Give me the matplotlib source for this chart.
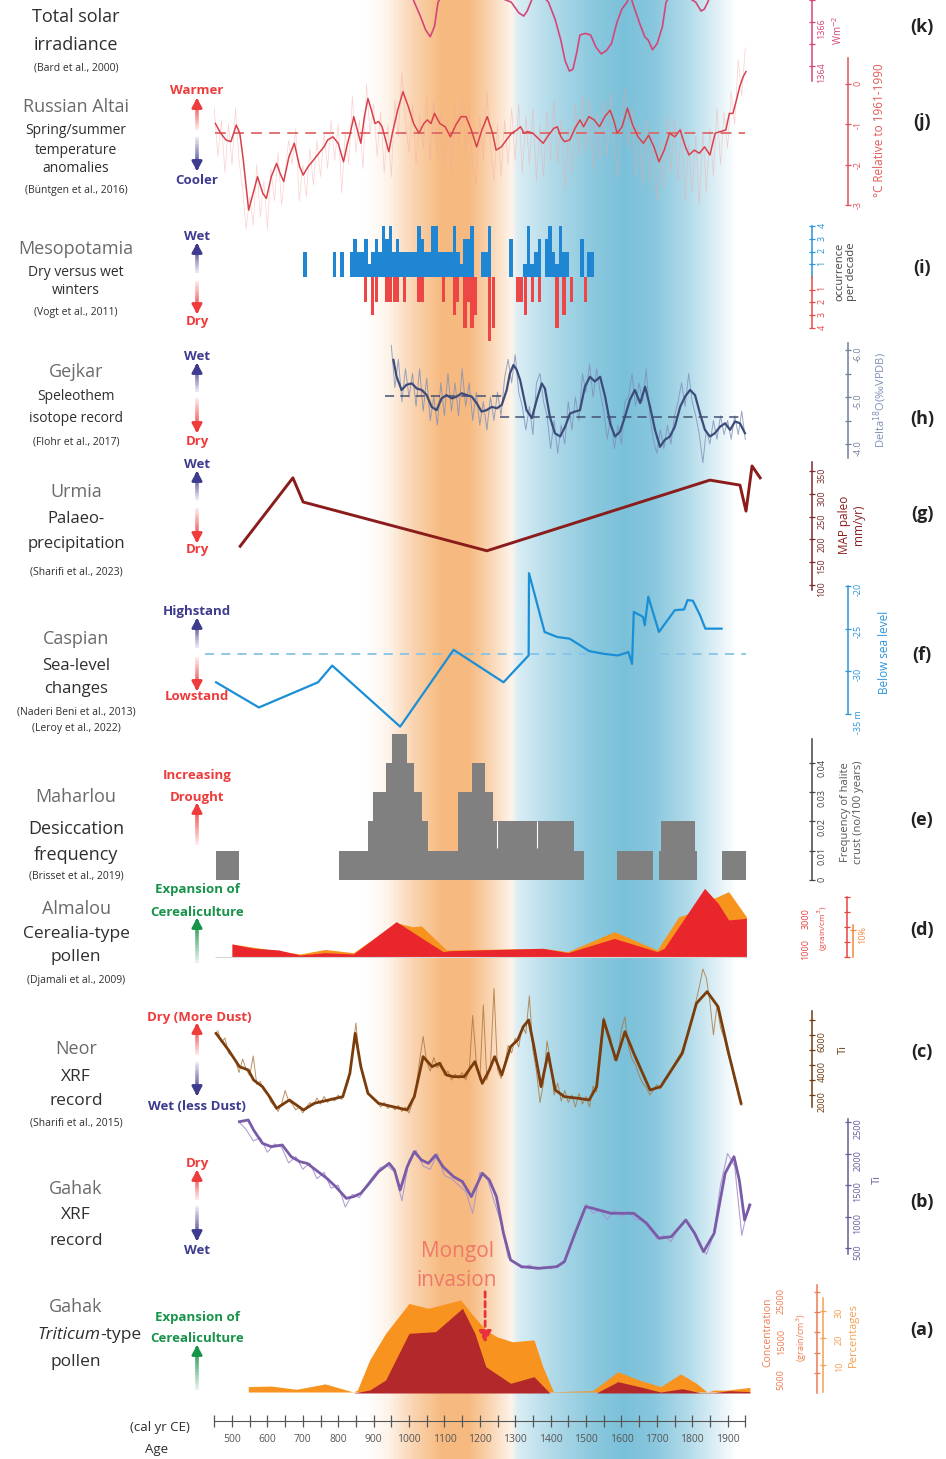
import numpy as np
import matplotlib
matplotlib.use('Agg')
import matplotlib.pyplot as plt
from matplotlib.collections import LineCollection
from matplotlib.colors import to_rgb

plt.rcParams['font.family'] = ['Open Sans', 'DejaVu Sans']

# ---------------- data ----------------
# (k) total solar irradiance, W m-2
k_years = [850, 990, 1015, 1032, 1047, 1060, 1072, 1082, 1120, 1289, 1310, 1324, 1334, 1344, 1360,
           1394, 1413, 1429, 1441, 1453, 1463, 1473, 1483, 1498, 1513, 1528, 1543, 1558, 1572, 1587,
           1601, 1616, 1625, 1631, 1651, 1666, 1676, 1688, 1701, 1716, 1726, 1750, 1810, 1825, 1834,
           1844, 1870]
k_tsi = [1368, 1368, 1366.9, 1366.27, 1365.64, 1365.33, 1365.8, 1366.9, 1368, 1366.9, 1366.42,
         1366.27, 1366.5, 1366.9, 1367.5, 1366.9, 1366.11, 1365.17, 1364.24, 1363.77, 1363.85,
         1364.55, 1365.41, 1365.48, 1365.41, 1364.86, 1364.55, 1364.71, 1365.02, 1365.96, 1366.58,
         1366.9, 1367.3, 1366.9, 1365.96, 1365.33, 1365.17, 1364.74, 1365.02, 1365.8, 1366.9,
         1367.5, 1366.9, 1366.5, 1366.58, 1366.9, 1368]

# (j) Russian Altai temperature anomaly (deg C rel. 1961-1990)
j_years = [453, 468, 483, 497, 512, 522, 532, 547, 557, 572, 587, 597, 611, 626, 636, 646, 661, 676,
           691, 701, 715, 730, 745, 760, 770, 785, 800, 815, 824, 834, 844, 854, 864, 874, 884, 894,
           904, 914, 924, 934, 943, 953, 968, 983, 998, 1013, 1028, 1042, 1052, 1062, 1072, 1087,
           1102, 1117, 1132, 1147, 1161, 1176, 1191, 1206, 1221, 1236, 1246, 1261, 1275, 1290, 1305,
           1315, 1325, 1335, 1350, 1365, 1379, 1394, 1409, 1419, 1429, 1439, 1454, 1469, 1483, 1493,
           1508, 1523, 1538, 1553, 1568, 1578, 1588, 1602, 1617, 1632, 1647, 1662, 1677, 1692, 1706,
           1721, 1736, 1751, 1766, 1781, 1791, 1806, 1820, 1835, 1850, 1865, 1880, 1895, 1905, 1915,
           1925, 1934, 1944, 1952]
j_smooth = [-0.98, -1.22, -1.39, -1.43, -1.02, -1.22, -1.89, -3.13, -2.80, -2.30, -2.71, -2.84,
            -2.30, -1.97, -2.22, -2.42, -1.80, -1.47, -2.05, -2.26, -2.05, -1.89, -1.72, -1.56,
            -1.39, -1.31, -1.47, -1.93, -1.56, -1.22, -0.81, -1.14, -1.47, -0.81, -0.36, -0.65,
            -0.98, -0.93, -1.06, -1.39, -1.68, -1.22, -0.65, -0.19, -0.56, -0.98, -1.22, -0.98,
            -0.89, -0.98, -0.73, -0.98, -1.06, -1.31, -1.02, -0.81, -0.81, -1.14, -1.56, -1.14,
            -0.81, -1.22, -1.64, -1.56, -1.39, -1.22, -1.14, -1.06, -1.22, -1.18, -1.22, -1.35,
            -1.47, -1.27, -1.10, -1.06, -1.31, -1.43, -1.39, -1.10, -0.89, -1.06, -0.81, -0.89,
            -1.06, -0.81, -0.65, -0.89, -1.22, -1.06, -0.60, -1.02, -1.31, -1.47, -1.27, -1.56,
            -1.93, -1.64, -1.22, -1.31, -1.14, -1.56, -1.76, -1.64, -1.72, -1.56, -1.76, -1.22,
            -1.18, -1.14, -0.73, -0.73, -0.40, -0.07, 0.18, 0.31]
j_raw = [-0.6, -1.8, -0.9, -2.2, -1.0, -2.0, -0.6, -1.9, -2.6, -3.6, -2.8, -3.5, -2.0, -3.3, -2.4,
         -3.6, -2.1, -2.9, -1.7, -3.0, -2.2, -1.4, -2.0, -1.1, -2.9, -2.0, -2.8, -1.6, -2.5, -1.4,
         -2.3, -1.2, -2.1, -0.9, -1.9, -1.0, -2.7, -1.2, -2.0, -0.3, -1.7, -0.9, -2.1, 0.0, -1.2,
         -0.5, -1.8, -0.7, -2.2, -1.0, -2.3, -0.4, -1.3, 0.3, -0.9, -1.7, -0.5, -2.0, -0.8, -1.6,
         -0.3, -1.9, -0.4, -1.8, -0.6, -2.1, -0.9, -2.2, -0.5, -1.5, -0.3, -1.7, -0.6, -2.0, -2.5,
         -0.8, -1.9, -0.2, -1.5, -2.4, -1.0, -2.3, -0.9, -2.0, -0.6, -1.9, -0.5, -2.2, -0.8, -2.0,
         -0.6, -2.4, -1.0, -2.3, -0.7, -1.9, -0.4, -2.0, -0.9, -2.6, -1.1, -2.2, -0.5, -1.8, -0.3,
         -1.7, -0.4, -2.1, -0.7, -1.9, -0.4, -1.8, -0.2, -1.6, -2.3, -0.8, -0.1, -1.6, -0.6, -2.3,
         -1.0, -2.5, -0.9, -2.4, -1.3, -2.9, -1.4, -2.6, -0.8, -2.2, -0.9, -2.4, -1.1, -2.9, -1.5,
         -2.7, -1.3, -3.0, -1.2, -2.7, -1.1, -2.3, -0.6, -2.0, -0.7, -1.6, -0.2, -1.0, 0.6, -0.3, 0.9]
j_mean = -1.22

# (i) Mesopotamia wet / dry winters, occurrences per decade
i_wet_years = [706, 789, 810, 838, 848, 858, 868, 878, 888, 898, 908, 918, 928, 938, 948, 958, 968,
               978, 988, 998, 1008, 1018, 1028, 1038, 1048, 1058, 1068, 1078, 1088, 1098, 1108, 1118,
               1128, 1138, 1148, 1158, 1168, 1178, 1208, 1218, 1228, 1288, 1328, 1338, 1348, 1358,
               1368, 1388, 1398, 1408, 1418, 1428, 1438, 1448, 1488, 1508, 1518]
i_wet = [2, 2, 2, 2, 3, 2, 2, 3, 1, 2, 3, 2, 4, 3, 4, 2, 3, 2, 2, 2, 2, 2, 4, 3, 2, 2, 4, 4, 2, 2, 2,
         2, 4, 2, 1, 3, 3, 4, 2, 2, 4, 3, 1, 4, 1, 2, 3, 3, 4, 2, 1, 4, 2, 2, 3, 2, 2]
i_dry_years = [878, 898, 908, 938, 948, 958, 968, 988, 1028, 1038, 1098, 1128, 1138, 1158, 1168,
               1178, 1188, 1228, 1238, 1308, 1318, 1328, 1348, 1368, 1418, 1438, 1458, 1498]
i_dry = [2, 3, 2, 2, 2, 2, 2, 2, 2, 2, 2, 3, 2, 4, 2, 4, 3, 5, 4, 2, 2, 3, 2, 2, 4, 3, 2, 2]

# (h) Gejkar speleothem delta18O (permil VPDB)
h_years = [956, 965, 979, 993, 1008, 1022, 1036, 1050, 1064, 1078, 1092, 1106, 1121, 1135, 1149,
           1163, 1177, 1191, 1205, 1219, 1234, 1248, 1262, 1276, 1285, 1295, 1304, 1314, 1323, 1332,
           1347, 1361, 1375, 1384, 1398, 1412, 1427, 1441, 1455, 1469, 1483, 1497, 1511, 1525, 1540,
           1554, 1568, 1582, 1596, 1610, 1624, 1638, 1653, 1667, 1681, 1695, 1709, 1723, 1737, 1751,
           1766, 1780, 1794, 1808, 1822, 1836, 1850, 1864, 1879, 1893, 1907, 1921, 1935, 1949]
h_smooth = [-5.79, -5.43, -5.15, -5.26, -5.29, -5.18, -5.15, -5.04, -4.79, -4.72, -4.97, -5.04,
            -4.97, -5.01, -5.08, -5.04, -5.01, -4.87, -4.69, -4.72, -4.79, -4.76, -4.83, -5.15,
            -5.50, -5.68, -5.58, -5.36, -5.04, -4.72, -4.55, -4.94, -5.29, -5.18, -4.58, -4.23,
            -4.16, -4.37, -4.65, -4.69, -4.72, -5.22, -5.43, -5.33, -5.43, -5.01, -4.44, -4.16,
            -4.26, -4.58, -4.94, -5.15, -4.87, -5.22, -4.79, -4.30, -3.94, -4.09, -4.16, -4.37,
            -4.79, -5.01, -5.15, -5.04, -4.65, -4.30, -4.16, -4.23, -4.37, -4.44, -4.30, -4.48,
            -4.44, -4.23]
h_raw = [-6.1, -5.2, -5.8, -4.9, -5.6, -5.0, -5.5, -4.8, -5.6, -4.7, -5.4, -4.5, -5.0, -4.4, -5.3,
         -4.6, -5.5, -4.7, -5.3, -4.6, -5.6, -4.8, -5.3, -4.5, -5.1, -4.4, -4.9, -4.3, -5.0, -4.5,
         -5.1, -4.6, -5.4, -5.8, -5.3, -5.9, -5.1, -4.8, -4.3, -4.8, -4.2, -5.3, -5.5, -4.9, -4.6,
         -3.9, -4.5, -3.8, -4.4, -4.0, -4.9, -4.3, -5.0, -4.5, -5.5, -5.1, -5.7, -5.0, -5.6, -5.1,
         -4.7, -4.1, -4.6, -3.9, -4.4, -4.0, -4.9, -5.0, -5.5, -4.8, -5.3, -4.9, -5.6, -4.6, -4.1,
         -3.8, -4.3, -3.9, -4.4, -4.0, -4.6, -4.9, -5.3, -4.8, -5.5, -4.9, -4.6, -4.2, -3.6, -4.3,
         -4.0, -4.5, -4.1, -4.6, -4.2, -4.5, -4.1, -4.6, -4.2, -4.7, -4.1]
h_mean_early = -5.02
h_mean_late = -4.58

# (g) Urmia palaeo-precipitation (mm/yr)
g_years = [523, 672, 701, 1220, 1850, 1935, 1952, 1969, 1992]
g_map = [185, 335, 282, 175, 330, 319, 262, 361, 335]

# (f) Caspian sea level (m)
f_years = [455, 576, 743, 783, 975, 1126, 1267, 1338, 1339, 1383, 1419, 1454, 1509, 1550, 1590,
           1620, 1630, 1635, 1661, 1666, 1676, 1706, 1751, 1777, 1787, 1802, 1822, 1837, 1883]
f_level = [-31.29, -34.24, -31.29, -29.33, -36.49, -27.48, -31.29, -28.14, -18.50, -25.39, -25.98,
           -26.18, -27.63, -27.95, -28.14, -27.75, -29.13, -23.03, -23.62, -24.60, -21.26, -25.39,
           -22.83, -22.75, -21.65, -21.73, -23.42, -25.00, -25.00]
f_ref = -28.0

# (e) Maharlou halite crust frequency (no/100 years)
e_edges = [455, 521, 803, 884, 897, 934, 951, 993, 1015, 1037, 1055, 1138, 1178, 1214, 1237, 1467,
           1494, 1588, 1689, 1706, 1713, 1807, 1814, 1883, 1953]
e_freq = [0.01, 0, 0.01, 0.02, 0.03, 0.04, 0.05, 0.04, 0.03, 0.02, 0.01, 0.03, 0.04, 0.03, 0.02,
          0.01, 0, 0.01, 0, 0.01, 0.02, 0.01, 0, 0.01]
e_breaks = [1248, 1361]

# (d) Almalou Cerealia-type pollen
d_conc_years = [500, 561, 632, 692, 763, 843, 964, 1096, 1116, 1378, 1449, 1580, 1701, 1721, 1762,
                1835, 1873, 1903, 1953]
d_conc = [870, 580, 470, 130, 290, 200, 2360, 360, 420, 580, 290, 1240, 360, 580, 2020, 4580, 3580,
          2470, 2580]
d_pct_years = [500, 692, 763, 843, 964, 1010, 1035, 1106, 1378, 1449, 1580, 1701, 1762, 1792, 1835,
               1862, 1903, 1953]
d_pct = [4.8, 1.1, 2.8, 1.6, 12.7, 11.2, 11.5, 2.6, 3.2, 2.0, 9.4, 2.6, 14.9, 16.2, 23.0, 21.8,
         24.2, 14.9]

# (c) Neor XRF Ti
c_years = [455, 490, 521, 546, 561, 586, 606, 626, 662, 702, 732, 773, 813, 833, 848, 864, 884, 914,
           954, 995, 1015, 1040, 1065, 1086, 1106, 1126, 1156, 1186, 1207, 1227, 1242, 1262, 1287,
           1307, 1323, 1338, 1353, 1373, 1393, 1413, 1439, 1479, 1509, 1530, 1550, 1570, 1585, 1610,
           1635, 1681, 1711, 1772, 1812, 1842, 1873, 1903, 1938]
c_smooth = [6111, 5000, 3889, 3667, 3000, 2556, 1889, 1111, 1667, 1000, 1444, 1667, 1889, 3444,
            6111, 3889, 2111, 1444, 1222, 1000, 1889, 4556, 3889, 4111, 3333, 3222, 3222, 4222,
            2778, 3667, 4556, 3333, 5222, 5667, 6556, 7000, 5222, 2556, 4778, 2333, 1889, 1778,
            1667, 2556, 7000, 5444, 4333, 6222, 4778, 2333, 2556, 4778, 8111, 8889, 7889, 4778, 1444]
c_raw = [6300, 5500, 5800, 4800, 4600, 4300, 3500, 4400, 3700, 3300, 4600, 2700, 2900, 2300, 2100,
         1500, 1300, 900, 1400, 2300, 1600, 1400, 1000, 1200, 800, 1200, 1500, 1300, 1800, 1400,
         1900, 1500, 1800, 1600, 2000, 1700, 2300, 3000, 4800, 6800, 4300, 3200, 2400, 2000, 1700,
         1500, 1200, 1500, 1100, 1300, 1000, 1300, 900, 1200, 800, 1500, 2600, 4300, 5900, 4200,
         3600, 4500, 3800, 4200, 3300, 3600, 3000, 3400, 3100, 3500, 3000, 3600, 7300, 4200, 3000,
         8000, 3000, 3900, 9100, 3700, 3100, 4000, 5300, 4800, 5800, 5200, 6600, 6100, 8600, 5000,
         3600, 1500, 2800, 5600, 4200, 2000, 2800, 1600, 2300, 1500, 2000, 1200, 2100, 1400, 1900,
         1200, 2600, 2200, 5400, 7200, 6400, 5800, 4300, 4600, 6400, 7200, 5200, 4400, 4000, 3300,
         2800, 2500, 2000, 2300, 2700, 2400, 3000, 3300, 3700, 4100, 4500, 4900, 5600, 6200, 7000,
         8200, 9200, 10400, 9800, 8200, 6000, 8000, 6500, 5800, 4800, 4000, 3000, 2100, 1300]

# (b) Gahak XRF Ti
b_years = [521, 546, 561, 586, 611, 642, 667, 692, 712, 743, 768, 793, 823, 843, 864, 884, 914, 944,
           959, 975, 995, 1015, 1035, 1055, 1075, 1096, 1126, 1151, 1176, 1207, 1227, 1247, 1267,
           1287, 1318, 1368, 1418, 1439, 1469, 1499, 1519, 1570, 1635, 1671, 1706, 1741, 1782, 1807,
           1832, 1862, 1893, 1918, 1933, 1948, 1963]
b_smooth = [2505, 2532, 2373, 2162, 2108, 2135, 1950, 1870, 1844, 1712, 1606, 1473, 1288, 1315,
            1368, 1500, 1712, 1844, 1738, 1420, 1791, 2029, 1897, 1844, 1976, 1791, 1632, 1553,
            1315, 1686, 1579, 1315, 733, 310, 204, 178, 204, 283, 733, 1156, 1130, 1051, 1051, 892,
            654, 680, 944, 733, 442, 733, 1686, 1950, 1579, 944, 1183]
b_raw = [2500, 2380, 2200, 2250, 2020, 2150, 2100, 1850, 1950, 1750, 1850, 1600, 1700, 1450, 1500,
         1150, 1350, 1300, 1500, 1650, 1780, 1800, 1700, 1250, 1900, 2050, 1800, 1750, 2000, 1650,
         1600, 1500, 1400, 1050, 1700, 1620, 1250, 900, 350, 250, 180, 230, 160, 200, 170, 230, 300,
         600, 900, 1200, 1050, 1100, 950, 1100, 1000, 1080, 950, 950, 800, 650, 700, 600, 800, 950,
         800, 550, 400, 700, 1500, 2000, 1800, 700, 1200]

# (a) Gahak Triticum-type pollen
a_pct_years = [546, 611, 682, 763, 843, 854, 889, 934, 1000, 1055, 1146, 1176, 1217, 1247, 1292,
               1353, 1378, 1408, 1519, 1590, 1651, 1711, 1767, 1812, 1842, 1862, 1898, 1963]
a_pct = [2.0, 2.2, 1.0, 3.0, 0, 0.7, 11.9, 21.7, 32.8, 31.0, 34.1, 29.1, 23.0, 20.5, 18.6, 19.3, 9.4,
         0.1, 0.5, 7.5, 4.4, 2.0, 6.7, 3.2, 0, 0.7, 0.7, 1.7]
a_conc_years = [546, 843, 889, 934, 1000, 1075, 1151, 1186, 1217, 1287, 1353, 1398, 1529, 1590, 1651,
                1711, 1772, 1822, 1862, 1903, 1963]
a_conc = [0, 0, 740, 3210, 14740, 15140, 20910, 14740, 6500, 2390, 4030, 0, 0, 2800, 1560, 250, 1060,
          80, 80, 570, 330]

mongol_year = 1215
age_ticks = list(range(500, 1901, 100))

# ---------------- layout helpers ----------------
W, H = 946, 1459
X0, X1 = 200, 770
PX500, PXYR = 232, 0.354
YR0 = 500 + (X0 - PX500) / PXYR
YR1 = 500 + (X1 - PX500) / PXYR

fig = plt.figure(figsize=(W / 100, H / 100), dpi=100)

# background shading: warm period (orange) and cold period (blue)
bg = fig.add_axes([0, 0, 1, 1], zorder=-5)
xs = np.linspace(500 - PX500 / PXYR, 500 + (W - PX500) / PXYR, 1200)
a_or = np.interp(xs, [880, 940, 1010, 1090, 1170, 1230, 1285, 1310], [0, .12, .45, .75, .75, .45, .15, 0])
a_bl = np.interp(xs, [1290, 1308, 1400, 1520, 1610, 1690, 1790, 1880, 1925], [0, .22, .45, .68, .78, .7, .45, .15, 0])
c_or = np.array(to_rgb('#f4a356'))
c_bl = np.array(to_rgb('#55afcf'))
rgb = 1 - a_or[:, None] * (1 - c_or) - a_bl[:, None] * (1 - c_bl)
bg.imshow(np.tile(rgb[None], (2, 1, 1)), aspect='auto', extent=[xs[0], xs[-1], 0, 1])
bg.set_xlim(xs[0], xs[-1])
bg.axis('off')


def panel(top, bot, vtop, vbot):
    ax = fig.add_axes([X0 / W, 1 - bot / H, (X1 - X0) / W, (bot - top) / H])
    ax.set_xlim(YR0, YR1)
    ax.set_ylim(vbot, vtop)
    ax.patch.set_visible(False)
    for s in ax.spines.values():
        s.set_visible(False)
    ax.xaxis.set_visible(False)
    ax.set_yticks([])
    return ax


def scale(ax, px, lo, hi, ticks, labels, color, side='right', pad=1.5):
    sp = ax.spines[side]
    sp.set_visible(True)
    sp.set_position(('axes', (px - X0) / (X1 - X0)))
    sp.set_bounds(lo, hi)
    sp.set_color(color)
    sp.set_linewidth(1.1)
    ax.yaxis.set_ticks_position(side)
    ax.set_yticks(ticks, labels)
    ax.tick_params(axis='y', colors=color, labelsize=6.5, labelrotation=90,
                   direction='inout', length=5, width=0.9, pad=pad)


# ---------------- panels ----------------
# (k)
ax = panel(0, 110, 1364 + 65 / 22.5, 1364 - 45 / 22.5)
ax.plot(k_years, k_tsi, color='#d6457a', lw=1.2, clip_on=False)
scale(ax, 812, 1363.3, 1367.5, [1364, 1365, 1366, 1367], ['1364', '', '1366', ''], '#d6457a')

# (j)
ax = panel(40, 230, 44 / 40.3, -146 / 40.3)
ax.plot(np.arange(450, 450 + 10 * len(j_raw), 10), j_raw, color='#f4a5a0', lw=0.5, alpha=0.5, clip_on=False)
ax.hlines(j_mean, 452, 1948, colors='#dd6a66', lw=1.3, linestyles=(0, (6, 4)))
ax.plot(j_years, j_smooth, color='#d8414b', lw=1.1, clip_on=False)
scale(ax, 848, -3, 0.65, [0, -1, -2, -3], ['0', '-1', '-2', '-3'], '#e0525a')

# (i)
ax = panel(215, 350, 62 / 12.7, -73 / 12.7)
ax.bar(i_wet_years, i_wet, width=10, color='#1f86d3', clip_on=False)
ax.bar(i_dry_years, [-v for v in i_dry], width=9, color='#ec4646', clip_on=False)
scale(ax, 812, 0, 4, [1, 2, 3, 4], ['1', '2', '3', '4'], '#2a95d8')
ax2 = panel(215, 350, 62 / 12.7, -73 / 12.7)
scale(ax2, 812, -4, 0, [-4, -3, -2, -1], ['4', '3', '2', '1'], '#e84848')

# (h)
ax = panel(330, 470, -6 - 20 / 47, -4 + 26 / 47)
ax.plot(np.arange(950, 950 + 10 * len(h_raw), 10), h_raw, color='#7f90b8', lw=0.7, alpha=0.8, clip_on=False)
ax.hlines(h_mean_early, 932, 1277, colors='#445070', lw=1.1, linestyles=(0, (6, 4)))
ax.hlines(h_mean_late, 1257, 1935, colors='#445070', lw=1.1, linestyles=(0, (6, 4)))
ax.plot(h_years, h_smooth, color='#3b4c7a', lw=1.6, clip_on=False)
scale(ax, 848, -6.15, -3.7, [-6, -5.5, -5, -4.5, -4], ['-6.0', '', '-5.0', '', '-4.0'], '#6f7f9f')

# (g)
ax = panel(455, 600, 350 + 16 / 0.456, 350 - 129 / 0.456)
ax.plot(g_years, g_map, color='#8b1c1c', lw=2.1, clip_on=False)
scale(ax, 812, 90, 370, [100, 150, 200, 250, 300, 350],
      ['100', '150', '200', '250', '300', '350'], '#7a2a2a')

# (f)
ax = panel(560, 730, -20 + 26 / 8.53, -20 - 144 / 8.53)
ax.hlines(f_ref, 425, 1953, colors='#86c3e6', lw=1.3, linestyles=(0, (5, 4)))
ax.plot(f_years, f_level, color='#1b8fd6', lw=1.6, clip_on=False)
scale(ax, 848, -35, -20, [-20, -25, -30, -35], ['-20', '-25', '-30', '-35 m'], '#2b95d9')

# (e)
ax = panel(725, 890, 155 / 2930, -10 / 2930)
ax.stairs(e_freq, e_edges, fill=True, color='#808080', clip_on=False)
ax.vlines(e_breaks, 0.011, 0.02, colors='white', lw=0.8)
scale(ax, 812, 0, 0.048, [0, 0.01, 0.02, 0.03, 0.04], ['0', '0.01', '0.02', '0.03', '0.04'], '#444444')

# (d)
ax = panel(880, 965, 77 / 2.7, -8 / 2.7)
ax.fill_between(d_pct_years, 0, d_pct, color='#f7941d', lw=0, clip_on=False)
scale(ax, 853, 0, 12, [10], ['10%'], '#f08a3a')
ax = panel(880, 965, 77 / 0.015, -8 / 0.015)
ax.fill_between(d_conc_years, 0, d_conc, color='#e8262b', lw=0, clip_on=False)
ax.hlines(0, 452, 1953, colors='#d8d8d8', lw=0.8)
scale(ax, 847, 0, 4000, [0, 1000, 2000, 3000, 4000], ['', '1000', '', '3000', ''], '#e8433f',
      side='left', pad=24)

# (c)
ax = panel(980, 1115, 2000 + 115 / 0.015, 2000 - 20 / 0.015)
ax.plot(np.arange(460, 460 + 10 * len(c_raw), 10), c_raw, color='#a8763f', lw=0.7, alpha=0.8, clip_on=False)
ax.plot(c_years, c_smooth, color='#7b3c0c', lw=2.0, clip_on=False)
scale(ax, 812, 1200, 7600, [2000, 3000, 4000, 5000, 6000, 7000],
      ['2000', '', '4000', '', '6000', ''], '#6b3b12')

# (b)
ax = panel(1105, 1275, 500 + 143 / 0.063, 500 - 27 / 0.063)
ax.plot(np.arange(520, 520 + 20 * len(b_raw), 20), b_raw, color='#a995cf', lw=0.8, alpha=0.9, clip_on=False)
ax.plot(b_years, b_smooth, color='#7a5ba8', lw=2.0, clip_on=False)
scale(ax, 848, 400, 2550, [500, 1000, 1500, 2000, 2500],
      ['500', '1000', '1500', '2000', '2500'], '#6a5a9a')

# (a)
ax = panel(1280, 1400, 112 / 2.7, -8 / 2.7)
ax.fill_between(a_pct_years, 0, a_pct, color='#f7931e', lw=0, clip_on=False)
scale(ax, 823, 0, 35, [10, 20, 30], ['10', '20', '30'], '#f5a050', pad=6)
ax = panel(1280, 1400, 113 / 0.00405, -7 / 0.00405)
ax.fill_between(a_conc_years, 0, a_conc, color='#b3282a', lw=0, clip_on=False)
scale(ax, 817, 0, 26600, [5000, 10000, 15000, 20000, 25000],
      ['5000', '', '15000', '', '25000'], '#ee7b50', side='left', pad=20)
ax.annotate('', xy=(mongol_year, 12300), xytext=(mongol_year, 25000),
            arrowprops=dict(arrowstyle='-|>,head_width=0.35,head_length=0.7', color='#e8313f',
                            lw=2, linestyle=(0, (2, 1.5)), shrinkA=0, shrinkB=0))

# age axis
axx = fig.add_axes([X0 / W, 1 - 1421 / H, (X1 - X0) / W, 0.0005])
axx.set_xlim(YR0, YR1)
axx.patch.set_visible(False)
for s in ['top', 'left', 'right']:
    axx.spines[s].set_visible(False)
axx.spines['bottom'].set_bounds(450, 1950)
axx.spines['bottom'].set_color('#555555')
axx.set_yticks([])
axx.set_xticks(list(range(450, 1951, 50)), minor=False)
axx.set_xticklabels([str(t) if t in age_ticks else '' for t in range(450, 1951, 50)])
axx.tick_params(axis='x', direction='inout', length=9, width=0.9, colors='#555555',
                labelsize=7.5, pad=5)

# ---------------- text overlay ----------------
ov = fig.add_axes([0, 0, 1, 1], zorder=10)
ov.set_xlim(0, W)
ov.set_ylim(H, 0)
ov.axis('off')

GREY, DARK = '#6a6a6a', '#2e2e2e'
left_text = [
    ('Total solar', 17, 13, DARK), ('irradiance', 45, 13, DARK), ('(Bard et al., 2000)', 68, 7.5, DARK),
    ('Russian Altai', 107, 13, GREY), ('Spring/summer', 131, 10, DARK), ('temperature', 151, 10, DARK),
    ('anomalies', 169, 10, DARK), ('(Büntgen et al., 2016)', 190, 7.5, DARK),
    ('Mesopotamia', 249, 13, GREY), ('Dry versus wet', 272, 10, DARK), ('winters', 291, 10, DARK),
    ('(Vogt et al., 2011)', 313, 7.5, DARK),
    ('Gejkar', 372, 13, GREY), ('Speleothem', 396, 10, DARK), ('isotope record', 418, 10, DARK),
    ('(Flohr et al., 2017)', 442, 7.5, DARK),
    ('Urmia', 492, 13, GREY), ('Palaeo-', 519, 12, DARK), ('precipitation', 544, 12, DARK),
    ('(Sharifi et al., 2023)', 572, 7.5, DARK),
    ('Caspian', 639, 13, GREY), ('Sea-level', 666, 12, DARK), ('changes', 689, 12, DARK),
    ('(Naderi Beni et al., 2013)', 712, 7.5, DARK), ('(Leroy et al., 2022)', 729, 7.5, DARK),
    ('Maharlou', 797, 13, GREY), ('Desiccation', 829, 13, DARK), ('frequency', 855, 13, DARK),
    ('(Brisset et al., 2019)', 876, 7.5, DARK),
    ('Almalou', 909, 13, GREY), ('Cerealia-type', 934, 12.5, DARK), ('pollen', 957, 12.5, DARK),
    ('(Djamali et al., 2009)', 981, 7.5, DARK),
    ('Neor', 1049, 13, GREY), ('XRF', 1077, 12.5, DARK), ('record', 1101, 12.5, DARK),
    ('(Sharifi et al., 2015)', 1123, 7.5, DARK),
    ('Gahak', 1189, 13, GREY), ('XRF', 1215, 12.5, DARK), ('record', 1241, 12.5, DARK),
    ('Gahak', 1307, 13, GREY), ('pollen', 1362, 12.5, DARK),
]
for txt, y, fs, col in left_text:
    ov.text(76, y, txt, ha='center', va='center', fontsize=fs, color=col)
ov.text(100, 1335, 'Triticum', ha='right', va='center', fontsize=12.5, color=DARK, style='italic')
ov.text(100, 1335, '-type', ha='left', va='center', fontsize=12.5, color=DARK)

RED, NAVY, GREEN = '#ee3b3b', '#3d3b8e', '#17934a'


def grad_arrow(x, y0, y1, color):
    n = 14
    ys = np.linspace(y0, y1, n + 1)
    segs = [[(x, ys[i]), (x, ys[i + 1])] for i in range(n)]
    base = np.array(to_rgb(color))
    cols = [tuple(1 - (1 - base) * (0.12 + 0.88 * i / (n - 1))) for i in range(n)]
    ov.add_collection(LineCollection(segs, colors=cols, linewidths=2.6))
    d = np.sign(y1 - y0)
    ov.annotate('', xy=(x, y1 + d * 3), xytext=(x, y1 - d * 2),
                arrowprops=dict(arrowstyle='-|>,head_width=0.3,head_length=0.55', color=color,
                                lw=2, shrinkA=0, shrinkB=0))


direction = [
    ('Warmer', 90, RED), ('Cooler', 180, NAVY), ('Wet', 237, NAVY), ('Dry', 321, RED),
    ('Wet', 357, NAVY), ('Dry', 442, RED), ('Wet', 465, NAVY), ('Dry', 550, RED),
    ('Highstand', 612, NAVY), ('Lowstand', 697, RED), ('Increasing', 775, RED), ('Drought', 797, RED),
    ('Expansion of', 890, GREEN), ('Cerealiculture', 912, GREEN),
    ('Dry (More Dust)', 1017, RED), ('Wet (less Dust)', 1106, NAVY),
    ('Dry', 1164, RED), ('Wet', 1251, NAVY),
    ('Expansion of', 1317, GREEN), ('Cerealiculture', 1339, GREEN),
]
for txt, y, col in direction:
    xc = 199 if txt.startswith('Dry (') else 197
    ov.text(xc, y, txt, ha='center', va='center', fontsize=9.5, color=col, fontweight='bold')

arrows = [(130, 101, RED), (137, 168, NAVY), (273, 246, NAVY), (281, 311, RED),
          (392, 366, NAVY), (398, 430, RED), (500, 474, NAVY), (508, 540, RED),
          (648, 621, NAVY), (657, 688, RED), (845, 806, RED), (963, 921, GREEN),
          (1055, 1026, RED), (1062, 1093, NAVY), (1200, 1173, RED), (1206, 1238, NAVY),
          (1390, 1348, GREEN)]
for y0, y1, col in arrows:
    grad_arrow(197, y0, y1, col)

# right-hand axis titles
rt = dict(rotation=90, ha='center', va='center')
ov.text(838, 30, 'Wm$^{-2}$', fontsize=7, color='#d6457a', **rt)
ov.text(879, 130, '°C Relative to 1961-1990', fontsize=8.5, color='#e05a5a', **rt)
ov.text(846, 272, 'occurrence\nper decade', fontsize=8, color='#444444', linespacing=1.1, **rt)
ov.text(880, 400, 'Delta$^{18}$O(‰VPDB)', fontsize=8, color='#7d8fb8', **rt)
ov.text(851, 525, 'MAP paleo\nmm/yr)', fontsize=8.5, color='#8b1c1c', linespacing=1.1, **rt)
ov.text(884, 652, 'Below sea level', fontsize=8.5, color='#2b95d9', **rt)
ov.text(852, 812, 'Frequency of halite\ncrust (no/100 years)', fontsize=8, color='#555555',
        linespacing=1.15, **rt)
ov.text(823, 928, '(grain/cm$^{3}$)', fontsize=6, color='#e8433f', **rt)
ov.text(843, 1050, 'Ti', fontsize=8, color='#6b3b12', **rt)
ov.text(877, 1180, 'Ti', fontsize=8, color='#6a5a9a', **rt)
ov.text(768, 1332, 'Concentration', fontsize=7.5, color='#ee7b50', **rt)
ov.text(802, 1338, '(grain/cm$^{3}$)', fontsize=6.5, color='#ee7b50', **rt)
ov.text(853, 1335, 'Percentages', fontsize=8, color='#f5a050', **rt)

for lab, y in [('(k)', 27), ('(j)', 122), ('(i)', 268), ('(h)', 419), ('(g)', 514), ('(f)', 655),
               ('(e)', 820), ('(d)', 930), ('(c)', 1052), ('(b)', 1202), ('(a)', 1330)]:
    ov.text(922, y, lab, ha='center', va='center', fontsize=13, color='#222222', fontweight='bold')

ov.text(457, 1252, 'Mongol', ha='center', va='center', fontsize=15, color='#f07868')
ov.text(457, 1280, 'invasion', ha='center', va='center', fontsize=15, color='#f07868')

ov.text(160, 1428, '(cal yr CE)', ha='center', va='center', fontsize=9.5, color=DARK)
ov.text(157, 1450, 'Age', ha='center', va='center', fontsize=9.5, color=DARK)

fig.savefig('out.png', dpi=100)
